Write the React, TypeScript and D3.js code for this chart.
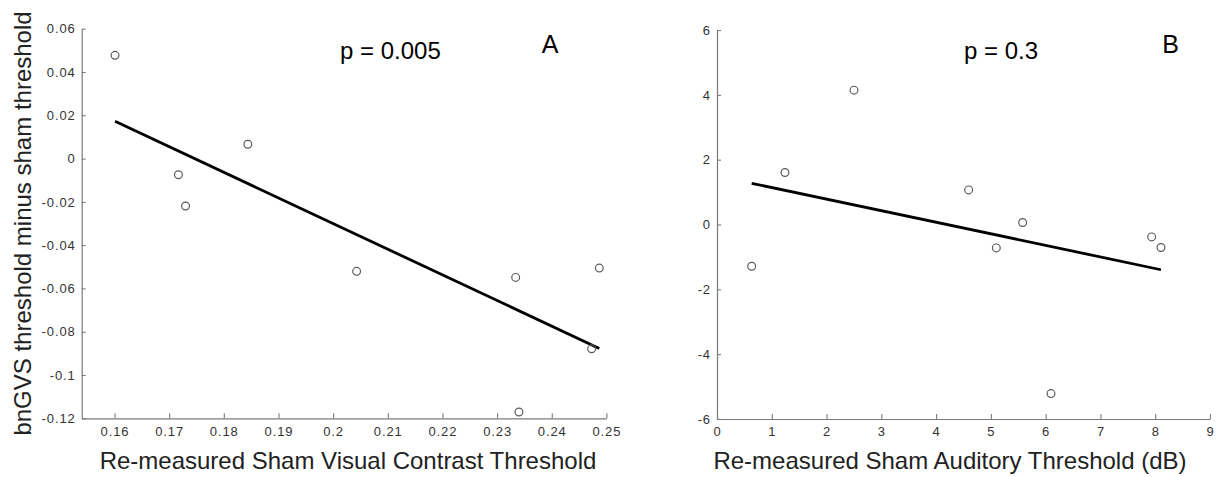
import React, { useEffect, useRef } from "react";
import * as d3 from "d3";

// Panel A data
const visualX = [0.1601, 0.1717, 0.173, 0.1844, 0.2043, 0.2334, 0.2487, 0.2473, 0.234];
const visualY = [0.0477, -0.0075, -0.0219, 0.0066, -0.0521, -0.0549, -0.0506, -0.0879, -0.1171];
const visualXTicks = [0.16, 0.17, 0.18, 0.19, 0.2, 0.21, 0.22, 0.23, 0.24, 0.25];
const visualXLabels = ["0.16", "0.17", "0.18", "0.19", "0.2", "0.21", "0.22", "0.23", "0.24", "0.25"];
const visualYTicks = [-0.12, -0.1, -0.08, -0.06, -0.04, -0.02, 0, 0.02, 0.04, 0.06];
const visualYLabels = ["-0.12", "-0.1", "-0.08", "-0.06", "-0.04", "-0.02", "0", "0.02", "0.04", "0.06"];

// Panel B data
const audX = [0.633, 1.241, 2.501, 4.594, 5.099, 5.58, 6.097, 7.935, 8.105];
const audY = [-1.287, 1.605, 4.145, 1.068, -0.722, 0.062, -5.216, -0.383, -0.71];
const audXTicks = [0, 1, 2, 3, 4, 5, 6, 7, 8, 9];
const audXLabels = ["0", "1", "2", "3", "4", "5", "6", "7", "8", "9"];
const audYTicks = [-6, -4, -2, 0, 2, 4, 6];
const audYLabels = ["-6", "-4", "-2", "0", "2", "4", "6"];

const FONT = "'Liberation Sans', Arial, Helvetica, sans-serif";

function fit(xs: number[], ys: number[]) {
  const mx = d3.mean(xs)!;
  const my = d3.mean(ys)!;
  let sxy = 0, sxx = 0;
  xs.forEach((x, i) => {
    sxy += (x - mx) * (ys[i] - my);
    sxx += (x - mx) * (x - mx);
  });
  const b = sxy / sxx;
  const a = my - b * mx;
  const x0 = d3.min(xs)!, x1 = d3.max(xs)!;
  return [[x0, a + b * x0], [x1, a + b * x1]] as [number, number][];
}

type PanelProps = {
  xs: number[]; ys: number[];
  xDomain: [number, number]; xRange: [number, number];
  yDomain: [number, number]; yRange: [number, number];
  xTicks: number[]; xLabels: string[];
  yTicks: number[]; yLabels: string[];
};

function Panel(p: PanelProps) {
  const xRef = useRef<SVGGElement>(null);
  const yRef = useRef<SVGGElement>(null);
  const x = d3.scaleLinear().domain(p.xDomain).range(p.xRange);
  const y = d3.scaleLinear().domain(p.yDomain).range(p.yRange);

  useEffect(() => {
    const xa = d3.axisBottom(x)
      .tickValues(p.xTicks)
      .tickFormat((_d, i) => p.xLabels[i])
      .tickSizeInner(-5)
      .tickSizeOuter(0)
      .tickPadding(8);
    const ya = d3.axisLeft(y)
      .tickValues(p.yTicks)
      .tickFormat((_d, i) => p.yLabels[i])
      .tickSizeInner(-4)
      .tickSizeOuter(0)
      .tickPadding(6);
    const gx = d3.select(xRef.current!).call(xa as any);
    const gy = d3.select(yRef.current!).call(ya as any);
    [gx, gy].forEach((g) => {
      g.attr("font-size", 13).attr("font-family", FONT);
      g.select(".domain").attr("stroke", "#7a7a7a").attr("stroke-width", 1.2);
      g.selectAll(".tick line").attr("stroke", "#7a7a7a").attr("stroke-width", 1.1);
      g.selectAll(".tick text")
        .attr("fill", "#333")
        .attr("font-size", 13)
        .attr("letter-spacing", "0.9");
    });
  });

  const line = d3.line<[number, number]>().x((d) => x(d[0])).y((d) => y(d[1]));
  const reg = fit(p.xs, p.ys);

  return (
    <g>
      <g ref={xRef} transform={`translate(0,${p.yRange[0]})`} />
      <g ref={yRef} transform={`translate(${p.xRange[0]},0)`} />
      <path d={line(reg) || ""} stroke="#000" strokeWidth={2.8} fill="none" />
      {p.xs.map((v, i) => (
        <circle key={i} cx={x(v)} cy={y(p.ys[i])} r={3.9} fill="none" stroke="#5a5a5a" strokeWidth={1.2} />
      ))}
    </g>
  );
}

export default function App() {
  return (
    <svg
      width={1217}
      height={477}
      style={{ position: "absolute", left: 0, top: 0, background: "#fff" }}
      fontFamily={FONT}
    >
      <Panel
        xs={visualX} ys={visualY}
        xDomain={[0.154, 0.25]} xRange={[81.7, 606.4]}
        yDomain={[-0.12, 0.06]} yRange={[418.3, 28.7]}
        xTicks={visualXTicks} xLabels={visualXLabels}
        yTicks={visualYTicks} yLabels={visualYLabels}
      />
      <Panel
        xs={audX} ys={audY}
        xDomain={[0, 9]} xRange={[717, 1210]}
        yDomain={[-6, 6]} yRange={[419, 30]}
        xTicks={audXTicks} xLabels={audXLabels}
        yTicks={audYTicks} yLabels={audYLabels}
      />
      <text transform="translate(31,223.5) rotate(-90)" textAnchor="middle" fontSize={24} fill="#222">
        bnGVS threshold minus sham threshold
      </text>
      <text x={348} y={469} textAnchor="middle" fontSize={24} fill="#222">
        Re-measured Sham Visual Contrast Threshold
      </text>
      <text x={950} y={469} textAnchor="middle" fontSize={24} fill="#222">
        Re-measured Sham Auditory Threshold (dB)
      </text>
      <text x={340} y={59} fontSize={24} fill="#000">p = 0.005</text>
      <text x={541.7} y={53.3} fontSize={25} fill="#000">A</text>
      <text x={964} y={59} fontSize={24} fill="#000">p = 0.3</text>
      <text x={1162.3} y={53.3} fontSize={25} fill="#000">B</text>
    </svg>
  );
}
